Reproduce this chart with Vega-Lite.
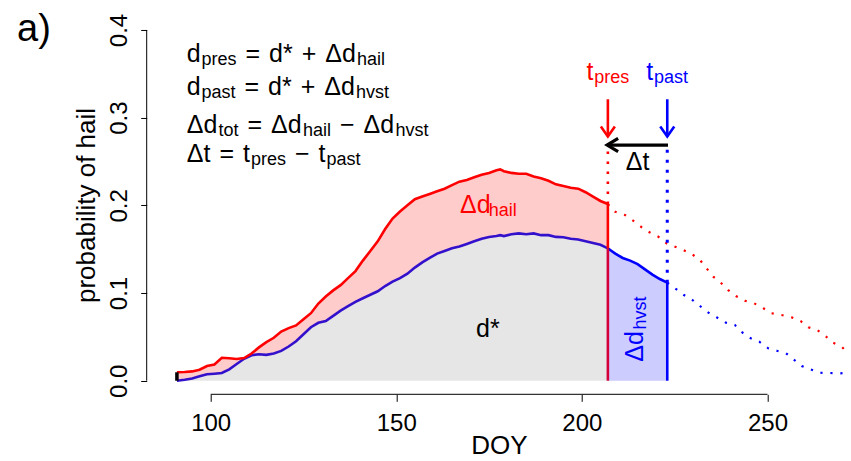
{
  "$schema": "https://vega.github.io/schema/vega-lite/v6.json",
  "width": 704.3,
  "height": 378.33,
  "autosize": {"type": "none"},
  "padding": {"left": 146.7, "top": 15.97, "right": 0, "bottom": 66.7},
  "background": "white",
  "config": {"view": {"stroke": null}, "font": "Liberation Sans"},
  "datasets": {
    "main": [
      {"doy": 90.9, "pres": 0.0096, "past": 0.0},
      {"doy": 93, "pres": 0.0100, "past": 0.001},
      {"doy": 95, "pres": 0.0106, "past": 0.0025},
      {"doy": 97, "pres": 0.0125, "past": 0.005},
      {"doy": 99, "pres": 0.0168, "past": 0.0073},
      {"doy": 101, "pres": 0.0185, "past": 0.008},
      {"doy": 103, "pres": 0.0262, "past": 0.0088},
      {"doy": 105, "pres": 0.0256, "past": 0.013},
      {"doy": 107, "pres": 0.0248, "past": 0.019},
      {"doy": 109, "pres": 0.0258, "past": 0.025},
      {"doy": 111, "pres": 0.031, "past": 0.029},
      {"doy": 113, "pres": 0.038, "past": 0.0302},
      {"doy": 115, "pres": 0.044, "past": 0.0295},
      {"doy": 117, "pres": 0.049, "past": 0.031},
      {"doy": 119, "pres": 0.056, "past": 0.034},
      {"doy": 121, "pres": 0.060, "past": 0.039},
      {"doy": 123, "pres": 0.063, "past": 0.045},
      {"doy": 125, "pres": 0.070, "past": 0.053},
      {"doy": 127, "pres": 0.077, "past": 0.061},
      {"doy": 129, "pres": 0.088, "past": 0.066},
      {"doy": 131, "pres": 0.096, "past": 0.068},
      {"doy": 133, "pres": 0.103, "past": 0.074},
      {"doy": 135, "pres": 0.109, "past": 0.080},
      {"doy": 137, "pres": 0.117, "past": 0.085},
      {"doy": 139, "pres": 0.125, "past": 0.090},
      {"doy": 141, "pres": 0.137, "past": 0.094},
      {"doy": 143, "pres": 0.148, "past": 0.098},
      {"doy": 145, "pres": 0.159, "past": 0.102},
      {"doy": 147, "pres": 0.173, "past": 0.108},
      {"doy": 149, "pres": 0.185, "past": 0.113},
      {"doy": 151, "pres": 0.193, "past": 0.117},
      {"doy": 153, "pres": 0.200, "past": 0.122},
      {"doy": 155, "pres": 0.207, "past": 0.129},
      {"doy": 157, "pres": 0.210, "past": 0.135},
      {"doy": 159, "pres": 0.213, "past": 0.140},
      {"doy": 161, "pres": 0.216, "past": 0.145},
      {"doy": 163, "pres": 0.219, "past": 0.148},
      {"doy": 165, "pres": 0.223, "past": 0.151},
      {"doy": 167, "pres": 0.227, "past": 0.153},
      {"doy": 169, "pres": 0.229, "past": 0.156},
      {"doy": 171, "pres": 0.232, "past": 0.159},
      {"doy": 173, "pres": 0.235, "past": 0.162},
      {"doy": 175, "pres": 0.237, "past": 0.164},
      {"doy": 177, "pres": 0.240, "past": 0.165},
      {"doy": 178, "pres": 0.241, "past": 0.166},
      {"doy": 179, "pres": 0.239, "past": 0.165},
      {"doy": 181, "pres": 0.237, "past": 0.167},
      {"doy": 183, "pres": 0.236, "past": 0.168},
      {"doy": 185, "pres": 0.236, "past": 0.167},
      {"doy": 187, "pres": 0.233, "past": 0.168},
      {"doy": 189, "pres": 0.231, "past": 0.166},
      {"doy": 191, "pres": 0.228, "past": 0.166},
      {"doy": 193, "pres": 0.224, "past": 0.164},
      {"doy": 195, "pres": 0.222, "past": 0.1636},
      {"doy": 197, "pres": 0.220, "past": 0.162},
      {"doy": 199, "pres": 0.219, "past": 0.161},
      {"doy": 201, "pres": 0.215, "past": 0.159},
      {"doy": 203, "pres": 0.210, "past": 0.157},
      {"doy": 205, "pres": 0.205, "past": 0.155},
      {"doy": 207, "pres": 0.2015, "past": 0.151}
    ],
    "pastsolid": [
      {"doy": 207, "past": 0.151},
      {"doy": 208, "past": 0.148},
      {"doy": 209, "past": 0.145},
      {"doy": 211, "past": 0.140},
      {"doy": 213, "past": 0.137},
      {"doy": 215, "past": 0.133},
      {"doy": 217, "past": 0.127},
      {"doy": 219, "past": 0.121},
      {"doy": 221, "past": 0.116},
      {"doy": 223, "past": 0.1118}
    ],
    "presdot": [
      {"doy": 207, "pres": 0.2015},
      {"doy": 208.9, "pres": 0.1928},
      {"doy": 211.6, "pres": 0.189},
      {"doy": 213.8, "pres": 0.1825},
      {"doy": 216.1, "pres": 0.175},
      {"doy": 218.2, "pres": 0.1693},
      {"doy": 220.6, "pres": 0.1642},
      {"doy": 222.8, "pres": 0.1567},
      {"doy": 225.1, "pres": 0.1528},
      {"doy": 227.3, "pres": 0.1491},
      {"doy": 229.6, "pres": 0.1445},
      {"doy": 231.8, "pres": 0.1377},
      {"doy": 233.6, "pres": 0.1282},
      {"doy": 235.4, "pres": 0.1186},
      {"doy": 237.4, "pres": 0.1118},
      {"doy": 239.4, "pres": 0.1034},
      {"doy": 241.5, "pres": 0.0966},
      {"doy": 243.9, "pres": 0.0912},
      {"doy": 246.4, "pres": 0.0883},
      {"doy": 248.9, "pres": 0.0826},
      {"doy": 251.1, "pres": 0.0769},
      {"doy": 253.8, "pres": 0.0749},
      {"doy": 256.5, "pres": 0.0723},
      {"doy": 258.9, "pres": 0.0681},
      {"doy": 261.0, "pres": 0.0609},
      {"doy": 263.4, "pres": 0.0578},
      {"doy": 265.6, "pres": 0.051},
      {"doy": 267.7, "pres": 0.0433},
      {"doy": 270.0, "pres": 0.0388},
      {"doy": 271.8, "pres": 0.0305}
    ],
    "pastdot": [
      {"doy": 223, "past": 0.1118},
      {"doy": 225.5, "past": 0.1042},
      {"doy": 227.5, "past": 0.0977},
      {"doy": 229.8, "past": 0.092},
      {"doy": 231.8, "past": 0.0852},
      {"doy": 234.1, "past": 0.0776},
      {"doy": 236.3, "past": 0.0723},
      {"doy": 238.8, "past": 0.0662},
      {"doy": 241.2, "past": 0.0635},
      {"doy": 243.3, "past": 0.0547},
      {"doy": 245.5, "past": 0.0484},
      {"doy": 247.8, "past": 0.0445},
      {"doy": 250.2, "past": 0.037},
      {"doy": 252.5, "past": 0.0342},
      {"doy": 255.0, "past": 0.0313},
      {"doy": 257.0, "past": 0.0244},
      {"doy": 259.2, "past": 0.0168},
      {"doy": 261.6, "past": 0.013},
      {"doy": 264.1, "past": 0.0091},
      {"doy": 266.8, "past": 0.0088},
      {"doy": 269.5, "past": 0.0084},
      {"doy": 272.0, "past": 0.0091}
    ],
    "segments": [
      {"kind": "axis", "x": 82.76, "x2": 82.76, "y": 0, "y2": 0.4},
      {"kind": "axis", "x": 100, "x2": 250, "y": -0.0155, "y2": -0.0155},
      {"kind": "start", "x": 90.9, "x2": 90.9, "y": 0, "y2": 0.0096},
      {"kind": "redlow", "x": 207, "x2": 207, "y": 0, "y2": 0.151},
      {"kind": "redhigh", "x": 207, "x2": 207, "y": 0.151, "y2": 0.2015},
      {"kind": "reddot", "x": 207, "x2": 207, "y": 0.2015, "y2": 0.268},
      {"kind": "bluesolid", "x": 223, "x2": 223, "y": 0, "y2": 0.1118},
      {"kind": "bluedot", "x": 223, "x2": 223, "y": 0.1118, "y2": 0.268},
      {"kind": "redarrow", "x": 207, "x2": 207, "y": 0.321, "y2": 0.2785},
      {"kind": "bluearrow", "x": 223, "x2": 223, "y": 0.321, "y2": 0.2785},
      {"kind": "blackarrow", "x": 223.2, "x2": 206.8, "y": 0.2688, "y2": 0.2688}
    ],
    "heads": [
      {"kind": "red", "x": 207, "y": 0.2785},
      {"kind": "blue", "x": 223, "y": 0.2785},
      {"kind": "black", "x": 206.8, "y": 0.2688}
    ],
    "labels": [
      {"kind": "big", "x": 47.82, "y": 0.3875, "text": "a)"},
      {"kind": "eqm", "x": 93.54, "y": 0.3638, "text": "d"},
      {"kind": "eqm", "x": 109.38, "y": 0.3638, "text": "="},
      {"kind": "eqm", "x": 115.71, "y": 0.3638, "text": "d*"},
      {"kind": "eqm", "x": 124.52, "y": 0.3638, "text": "+"},
      {"kind": "eqm", "x": 130.87, "y": 0.3638, "text": "Δd"},
      {"kind": "eqs", "x": 97.52, "y": 0.3604, "text": "pres"},
      {"kind": "eqs", "x": 139.41, "y": 0.3604, "text": "hail"},
      {"kind": "eqm", "x": 93.54, "y": 0.3258, "text": "d"},
      {"kind": "eqm", "x": 109.11, "y": 0.3258, "text": "="},
      {"kind": "eqm", "x": 115.44, "y": 0.3258, "text": "d*"},
      {"kind": "eqm", "x": 124.25, "y": 0.3258, "text": "+"},
      {"kind": "eqm", "x": 130.60, "y": 0.3258, "text": "Δd"},
      {"kind": "eqs", "x": 97.52, "y": 0.3224, "text": "past"},
      {"kind": "eqs", "x": 139.14, "y": 0.3224, "text": "hvst"},
      {"kind": "eqm", "x": 93.54, "y": 0.2822, "text": "Δd"},
      {"kind": "eqm", "x": 109.91, "y": 0.2822, "text": "="},
      {"kind": "eqm", "x": 116.27, "y": 0.2822, "text": "Δd"},
      {"kind": "eqm", "x": 134.83, "y": 0.2822, "text": "−"},
      {"kind": "eqm", "x": 141.19, "y": 0.2822, "text": "Δd"},
      {"kind": "eqs", "x": 102.10, "y": 0.2788, "text": "tot"},
      {"kind": "eqs", "x": 124.87, "y": 0.2788, "text": "hail"},
      {"kind": "eqs", "x": 149.78, "y": 0.2788, "text": "hvst"},
      {"kind": "eqm", "x": 93.54, "y": 0.2498, "text": "Δt"},
      {"kind": "eqm", "x": 102.34, "y": 0.2498, "text": "="},
      {"kind": "eqm", "x": 108.70, "y": 0.2498, "text": "t"},
      {"kind": "eqm", "x": 122.71, "y": 0.2498, "text": "−"},
      {"kind": "eqm", "x": 129.07, "y": 0.2498, "text": "t"},
      {"kind": "eqs", "x": 110.86, "y": 0.2464, "text": "pres"},
      {"kind": "eqs", "x": 131.22, "y": 0.2464, "text": "past"},
      {"kind": "eqm", "x": 171.47, "y": 0.0502, "text": "d*"},
      {"kind": "dt", "x": 215.0, "y": 0.2403, "text": "Δt"},
      {"kind": "redm", "x": 201.24, "y": 0.3430, "text": "t"},
      {"kind": "reds", "x": 203.3, "y": 0.3395, "text": "pres"},
      {"kind": "redm", "x": 167.16, "y": 0.1909, "text": "Δd"},
      {"kind": "reds", "x": 174.90, "y": 0.1873, "text": "hail"},
      {"kind": "bluem", "x": 217.35, "y": 0.3430, "text": "t"},
      {"kind": "blues", "x": 219.43, "y": 0.3395, "text": "past"},
      {"kind": "bluerotm", "x": 216.54, "y": 0.0217, "text": "Δd"},
      {"kind": "bluerots", "x": 217.27, "y": 0.0584, "text": "hvst"}
    ]
  },
  "layer": [
    {
      "data": {"name": "main"},
      "mark": {"type": "area", "color": "#e6e6e6"},
      "encoding": {
        "x": {"field": "doy", "type": "quantitative", "scale": {"domain": [82.76, 272.5], "nice": false, "zero": false},
          "axis": {"values": [100, 150, 200, 250], "domain": false, "grid": false, "tickSize": 7, "tickColor": "#000", "tickWidth": 1,
            "labelFontSize": 24, "labelColor": "#000", "labelBaseline": "alphabetic", "labelPadding": 28.7, "labelFlush": false, "labelOverlap": false,
            "title": "DOY", "titleFontSize": 26, "titleFontWeight": "normal", "titleColor": "#000", "titleBaseline": "alphabetic", "titleY": 59}},
        "y": {"field": "past", "type": "quantitative", "scale": {"domain": [-0.0155, 0.416], "nice": false, "zero": false},
          "axis": {"values": [0, 0.1, 0.2, 0.3, 0.4], "format": ".1f", "domain": false, "grid": false, "tickSize": 6, "tickColor": "#000", "tickWidth": 1,
            "labelFontSize": 24, "labelColor": "#000", "labelAngle": 270, "labelAlign": "center", "labelBaseline": "alphabetic", "labelPadding": 14, "labelFlush": false, "labelOverlap": false,
            "title": "probability of hail", "titleFontSize": 26, "titleFontWeight": "normal", "titleColor": "#000", "titleAngle": 270, "titleBaseline": "alphabetic", "titleAlign": "center", "titleX": -52, "titleY": 189}},
        "y2": {"datum": 0}
      }
    },
    {
      "data": {"name": "main"},
      "mark": {"type": "area", "color": "#ffcccc"},
      "encoding": {
        "x": {"field": "doy", "type": "quantitative", "scale": {"domain": [82.76, 272.5], "nice": false, "zero": false}},
        "y": {"field": "pres", "type": "quantitative", "scale": {"domain": [-0.0155, 0.416], "nice": false, "zero": false}},
        "y2": {"field": "past"}
      }
    },
    {
      "data": {"name": "pastsolid"},
      "mark": {"type": "area", "color": "#ccccff"},
      "encoding": {
        "x": {"field": "doy", "type": "quantitative", "scale": {"domain": [82.76, 272.5], "nice": false, "zero": false}},
        "y": {"field": "past", "type": "quantitative", "scale": {"domain": [-0.0155, 0.416], "nice": false, "zero": false}},
        "y2": {"datum": 0}
      }
    },
    {
      "data": {"name": "main"},
      "mark": {"type": "line", "color": "#3311cc", "strokeWidth": 2.6},
      "encoding": {
        "x": {"field": "doy", "type": "quantitative", "scale": {"domain": [82.76, 272.5], "nice": false, "zero": false}},
        "y": {"field": "past", "type": "quantitative", "scale": {"domain": [-0.0155, 0.416], "nice": false, "zero": false}}
      }
    },
    {
      "data": {"name": "pastsolid"},
      "mark": {"type": "line", "color": "#0000ff", "strokeWidth": 2.6},
      "encoding": {
        "x": {"field": "doy", "type": "quantitative", "scale": {"domain": [82.76, 272.5], "nice": false, "zero": false}},
        "y": {"field": "past", "type": "quantitative", "scale": {"domain": [-0.0155, 0.416], "nice": false, "zero": false}}
      }
    },
    {
      "data": {"name": "main"},
      "mark": {"type": "line", "color": "#ff0000", "strokeWidth": 2.6},
      "encoding": {
        "x": {"field": "doy", "type": "quantitative", "scale": {"domain": [82.76, 272.5], "nice": false, "zero": false}},
        "y": {"field": "pres", "type": "quantitative", "scale": {"domain": [-0.0155, 0.416], "nice": false, "zero": false}}
      }
    },
    {
      "data": {"name": "presdot"},
      "mark": {"type": "line", "color": "#ff0000", "strokeWidth": 2.2, "strokeDash": [2.2, 7.8]},
      "encoding": {
        "x": {"field": "doy", "type": "quantitative", "scale": {"domain": [82.76, 272.5], "nice": false, "zero": false}},
        "y": {"field": "pres", "type": "quantitative", "scale": {"domain": [-0.0155, 0.416], "nice": false, "zero": false}}
      }
    },
    {
      "data": {"name": "pastdot"},
      "mark": {"type": "line", "color": "#0000ff", "strokeWidth": 2.2, "strokeDash": [2.2, 7.8]},
      "encoding": {
        "x": {"field": "doy", "type": "quantitative", "scale": {"domain": [82.76, 272.5], "nice": false, "zero": false}},
        "y": {"field": "past", "type": "quantitative", "scale": {"domain": [-0.0155, 0.416], "nice": false, "zero": false}}
      }
    },
    {
      "data": {"name": "segments"},
      "transform": [{"filter": "datum.kind === 'axis'"}],
      "mark": {"type": "rule", "color": "#000", "strokeWidth": 1},
      "encoding": {
        "x": {"field": "x", "type": "quantitative", "scale": {"domain": [82.76, 272.5], "nice": false, "zero": false}},
        "x2": {"field": "x2"},
        "y": {"field": "y", "type": "quantitative", "scale": {"domain": [-0.0155, 0.416], "nice": false, "zero": false}},
        "y2": {"field": "y2"}
      }
    },
    {
      "data": {"name": "segments"},
      "transform": [{"filter": "datum.kind === 'start'"}],
      "mark": {"type": "rule", "color": "#000", "strokeWidth": 3.5},
      "encoding": {
        "x": {"field": "x", "type": "quantitative", "scale": {"domain": [82.76, 272.5], "nice": false, "zero": false}},
        "x2": {"field": "x2"},
        "y": {"field": "y", "type": "quantitative", "scale": {"domain": [-0.0155, 0.416], "nice": false, "zero": false}},
        "y2": {"field": "y2"}
      }
    },
    {
      "data": {"name": "segments"},
      "transform": [{"filter": "datum.kind === 'redlow'"}],
      "mark": {"type": "rule", "color": "#d4003a", "strokeWidth": 2.6},
      "encoding": {
        "x": {"field": "x", "type": "quantitative", "scale": {"domain": [82.76, 272.5], "nice": false, "zero": false}},
        "x2": {"field": "x2"},
        "y": {"field": "y", "type": "quantitative", "scale": {"domain": [-0.0155, 0.416], "nice": false, "zero": false}},
        "y2": {"field": "y2"}
      }
    },
    {
      "data": {"name": "segments"},
      "transform": [{"filter": "datum.kind === 'redhigh' || datum.kind === 'redarrow'"}],
      "mark": {"type": "rule", "color": "#ff0000", "strokeWidth": 2.6},
      "encoding": {
        "x": {"field": "x", "type": "quantitative", "scale": {"domain": [82.76, 272.5], "nice": false, "zero": false}},
        "x2": {"field": "x2"},
        "y": {"field": "y", "type": "quantitative", "scale": {"domain": [-0.0155, 0.416], "nice": false, "zero": false}},
        "y2": {"field": "y2"}
      }
    },
    {
      "data": {"name": "segments"},
      "transform": [{"filter": "datum.kind === 'bluesolid' || datum.kind === 'bluearrow'"}],
      "mark": {"type": "rule", "color": "#0000ff", "strokeWidth": 2.6},
      "encoding": {
        "x": {"field": "x", "type": "quantitative", "scale": {"domain": [82.76, 272.5], "nice": false, "zero": false}},
        "x2": {"field": "x2"},
        "y": {"field": "y", "type": "quantitative", "scale": {"domain": [-0.0155, 0.416], "nice": false, "zero": false}},
        "y2": {"field": "y2"}
      }
    },
    {
      "data": {"name": "segments"},
      "transform": [{"filter": "datum.kind === 'reddot'"}],
      "mark": {"type": "rule", "color": "#ff0000", "strokeWidth": 2.6, "strokeDash": [2.6, 7.4]},
      "encoding": {
        "x": {"field": "x", "type": "quantitative", "scale": {"domain": [82.76, 272.5], "nice": false, "zero": false}},
        "x2": {"field": "x2"},
        "y": {"field": "y", "type": "quantitative", "scale": {"domain": [-0.0155, 0.416], "nice": false, "zero": false}},
        "y2": {"field": "y2"}
      }
    },
    {
      "data": {"name": "segments"},
      "transform": [{"filter": "datum.kind === 'bluedot'"}],
      "mark": {"type": "rule", "color": "#0000ff", "strokeWidth": 3, "strokeDash": [3, 7]},
      "encoding": {
        "x": {"field": "x", "type": "quantitative", "scale": {"domain": [82.76, 272.5], "nice": false, "zero": false}},
        "x2": {"field": "x2"},
        "y": {"field": "y", "type": "quantitative", "scale": {"domain": [-0.0155, 0.416], "nice": false, "zero": false}},
        "y2": {"field": "y2"}
      }
    },
    {
      "data": {"name": "segments"},
      "transform": [{"filter": "datum.kind === 'blackarrow'"}],
      "mark": {"type": "rule", "color": "#000000", "strokeWidth": 3.2},
      "encoding": {
        "x": {"field": "x", "type": "quantitative", "scale": {"domain": [82.76, 272.5], "nice": false, "zero": false}},
        "x2": {"field": "x2"},
        "y": {"field": "y", "type": "quantitative", "scale": {"domain": [-0.0155, 0.416], "nice": false, "zero": false}},
        "y2": {"field": "y2"}
      }
    },
    {
      "data": {"name": "heads"},
      "transform": [{"filter": "datum.kind === 'red'"}],
      "mark": {"type": "point", "shape": "M-0.7,-1L0,0L0.7,-1", "filled": false, "color": "#ff0000", "strokeWidth": 2.6, "size": 400, "opacity": 1},
      "encoding": {
        "x": {"field": "x", "type": "quantitative", "scale": {"domain": [82.76, 272.5], "nice": false, "zero": false}},
        "y": {"field": "y", "type": "quantitative", "scale": {"domain": [-0.0155, 0.416], "nice": false, "zero": false}}
      }
    },
    {
      "data": {"name": "heads"},
      "transform": [{"filter": "datum.kind === 'blue'"}],
      "mark": {"type": "point", "shape": "M-0.7,-1L0,0L0.7,-1", "filled": false, "color": "#0000ff", "strokeWidth": 2.6, "size": 400, "opacity": 1},
      "encoding": {
        "x": {"field": "x", "type": "quantitative", "scale": {"domain": [82.76, 272.5], "nice": false, "zero": false}},
        "y": {"field": "y", "type": "quantitative", "scale": {"domain": [-0.0155, 0.416], "nice": false, "zero": false}}
      }
    },
    {
      "data": {"name": "heads"},
      "transform": [{"filter": "datum.kind === 'black'"}],
      "mark": {"type": "point", "shape": "M1,-0.6L0,0L1,0.6", "filled": false, "color": "#000000", "strokeWidth": 3.2, "size": 484, "opacity": 1},
      "encoding": {
        "x": {"field": "x", "type": "quantitative", "scale": {"domain": [82.76, 272.5], "nice": false, "zero": false}},
        "y": {"field": "y", "type": "quantitative", "scale": {"domain": [-0.0155, 0.416], "nice": false, "zero": false}}
      }
    },
    {
      "data": {"name": "labels"},
      "transform": [{"filter": "datum.kind === 'big'"}],
      "mark": {"type": "text", "align": "left", "baseline": "alphabetic", "fontSize": 38, "color": "#000000"},
      "encoding": {
        "x": {"field": "x", "type": "quantitative", "scale": {"domain": [82.76, 272.5], "nice": false, "zero": false}},
        "y": {"field": "y", "type": "quantitative", "scale": {"domain": [-0.0155, 0.416], "nice": false, "zero": false}},
        "text": {"field": "text"}
      }
    },
    {
      "data": {"name": "labels"},
      "transform": [{"filter": "datum.kind === 'eqm'"}],
      "mark": {"type": "text", "align": "left", "baseline": "alphabetic", "fontSize": 25, "color": "#000000"},
      "encoding": {
        "x": {"field": "x", "type": "quantitative", "scale": {"domain": [82.76, 272.5], "nice": false, "zero": false}},
        "y": {"field": "y", "type": "quantitative", "scale": {"domain": [-0.0155, 0.416], "nice": false, "zero": false}},
        "text": {"field": "text"}
      }
    },
    {
      "data": {"name": "labels"},
      "transform": [{"filter": "datum.kind === 'eqs'"}],
      "mark": {"type": "text", "align": "left", "baseline": "alphabetic", "fontSize": 18, "color": "#000000"},
      "encoding": {
        "x": {"field": "x", "type": "quantitative", "scale": {"domain": [82.76, 272.5], "nice": false, "zero": false}},
        "y": {"field": "y", "type": "quantitative", "scale": {"domain": [-0.0155, 0.416], "nice": false, "zero": false}},
        "text": {"field": "text"}
      }
    },
    {
      "data": {"name": "labels"},
      "transform": [{"filter": "datum.kind === 'dt'"}],
      "mark": {"type": "text", "align": "center", "baseline": "alphabetic", "fontSize": 25, "color": "#000000"},
      "encoding": {
        "x": {"field": "x", "type": "quantitative", "scale": {"domain": [82.76, 272.5], "nice": false, "zero": false}},
        "y": {"field": "y", "type": "quantitative", "scale": {"domain": [-0.0155, 0.416], "nice": false, "zero": false}},
        "text": {"field": "text"}
      }
    },
    {
      "data": {"name": "labels"},
      "transform": [{"filter": "datum.kind === 'redm'"}],
      "mark": {"type": "text", "align": "left", "baseline": "alphabetic", "fontSize": 25, "color": "#ff0000"},
      "encoding": {
        "x": {"field": "x", "type": "quantitative", "scale": {"domain": [82.76, 272.5], "nice": false, "zero": false}},
        "y": {"field": "y", "type": "quantitative", "scale": {"domain": [-0.0155, 0.416], "nice": false, "zero": false}},
        "text": {"field": "text"}
      }
    },
    {
      "data": {"name": "labels"},
      "transform": [{"filter": "datum.kind === 'reds'"}],
      "mark": {"type": "text", "align": "left", "baseline": "alphabetic", "fontSize": 18, "color": "#ff0000"},
      "encoding": {
        "x": {"field": "x", "type": "quantitative", "scale": {"domain": [82.76, 272.5], "nice": false, "zero": false}},
        "y": {"field": "y", "type": "quantitative", "scale": {"domain": [-0.0155, 0.416], "nice": false, "zero": false}},
        "text": {"field": "text"}
      }
    },
    {
      "data": {"name": "labels"},
      "transform": [{"filter": "datum.kind === 'bluem'"}],
      "mark": {"type": "text", "align": "left", "baseline": "alphabetic", "fontSize": 25, "color": "#0000ff"},
      "encoding": {
        "x": {"field": "x", "type": "quantitative", "scale": {"domain": [82.76, 272.5], "nice": false, "zero": false}},
        "y": {"field": "y", "type": "quantitative", "scale": {"domain": [-0.0155, 0.416], "nice": false, "zero": false}},
        "text": {"field": "text"}
      }
    },
    {
      "data": {"name": "labels"},
      "transform": [{"filter": "datum.kind === 'blues'"}],
      "mark": {"type": "text", "align": "left", "baseline": "alphabetic", "fontSize": 18, "color": "#0000ff"},
      "encoding": {
        "x": {"field": "x", "type": "quantitative", "scale": {"domain": [82.76, 272.5], "nice": false, "zero": false}},
        "y": {"field": "y", "type": "quantitative", "scale": {"domain": [-0.0155, 0.416], "nice": false, "zero": false}},
        "text": {"field": "text"}
      }
    },
    {
      "data": {"name": "labels"},
      "transform": [{"filter": "datum.kind === 'bluerotm'"}],
      "mark": {"type": "text", "align": "left", "baseline": "alphabetic", "fontSize": 25, "color": "#0000ff", "angle": 270},
      "encoding": {
        "x": {"field": "x", "type": "quantitative", "scale": {"domain": [82.76, 272.5], "nice": false, "zero": false}},
        "y": {"field": "y", "type": "quantitative", "scale": {"domain": [-0.0155, 0.416], "nice": false, "zero": false}},
        "text": {"field": "text"}
      }
    },
    {
      "data": {"name": "labels"},
      "transform": [{"filter": "datum.kind === 'bluerots'"}],
      "mark": {"type": "text", "align": "left", "baseline": "alphabetic", "fontSize": 18, "color": "#0000ff", "angle": 270},
      "encoding": {
        "x": {"field": "x", "type": "quantitative", "scale": {"domain": [82.76, 272.5], "nice": false, "zero": false}},
        "y": {"field": "y", "type": "quantitative", "scale": {"domain": [-0.0155, 0.416], "nice": false, "zero": false}},
        "text": {"field": "text"}
      }
    }
  ]
}
